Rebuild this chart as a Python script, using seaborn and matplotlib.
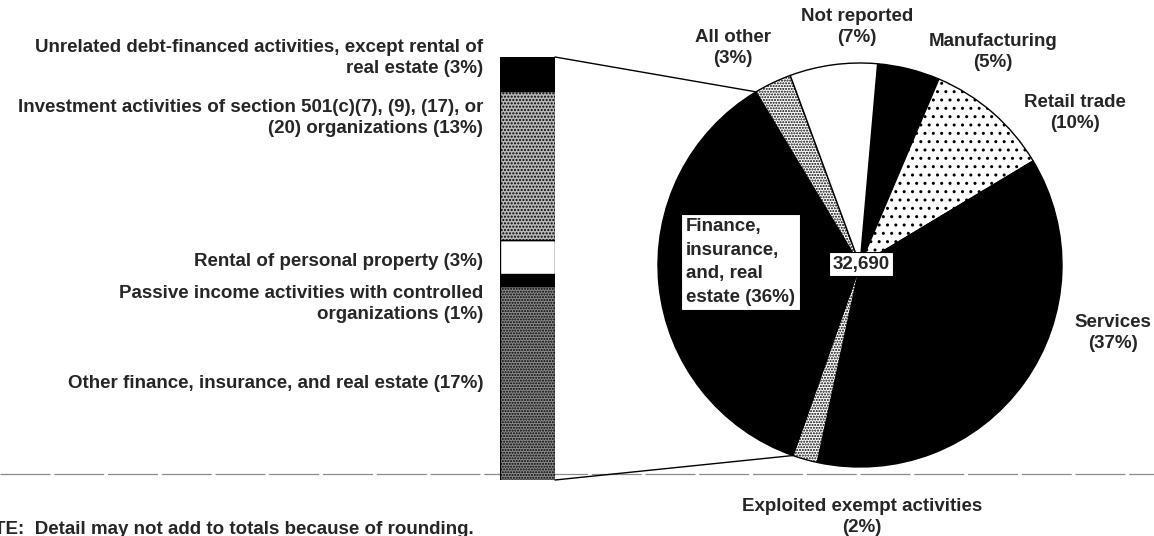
import matplotlib
matplotlib.use("Agg")
import numpy as np
import matplotlib.pyplot as plt
import seaborn as sns

# pie: industry groups, clockwise starting just right of 12 o'clock
pie_labels = ["Manufacturing\n(5%)", "Retail trade\n(10%)", "Services\n(37%)",
              "Exploited exempt activities\n(2%)",
              "Finance,\ninsurance,\nand, real\nestate (36%)",
              "All other\n(3%)", "Not reported\n(7%)"]
pie_values = [5, 10, 37, 2, 36, 3, 7]
total_label = "32,690"

# bar: breakdown of finance, insurance and real estate (bottom to top)
bar_labels = ["Other finance, insurance, and real estate (17%)",
              "Passive income activities with controlled\norganizations (1%)",
              "Rental of personal property (3%)",
              "Investment activities of section 501(c)(7), (9), (17), or\n(20) organizations (13%)",
              "Unrelated debt-financed activities, except rental of\nreal estate (3%)"]
bar_values = [17, 1, 3, 13, 3]

note = "NOTE:  Detail may not add to totals because of rounding."

sns.set_theme(style="white")
plt.rcParams['font.family'] = ['Liberation Sans', 'DejaVu Sans']
plt.rcParams['font.weight'] = 'bold'
plt.rcParams['hatch.linewidth'] = 1.0

W, H = 1154, 536
fig = plt.figure(figsize=(W / 100, H / 100), dpi=100)
ax = fig.add_axes([0, 0, 1, 1])

# pie (pixel coords, y down)
cx, cy, r = 860, 265, 202
pie_colors = ["black", "white", "black", "white", "black", "white", "white"]
pie_hatch = ["", "..", "", "......", "", "......", ""]
wedges, _ = ax.pie(pie_values, colors=pie_colors, hatch=pie_hatch,
                   startangle=-85, counterclock=True, center=(cx, cy),
                   radius=r, frame=True,
                   wedgeprops=dict(edgecolor="black", linewidth=1))
ax.set_xlim(0, W)
ax.set_ylim(H, 0)
ax.axis("off")

# stacked bar in its own axes
bl, br, bt, bb = 500, 555, 57, 480
ax2 = fig.add_axes([bl / W, (H - bb) / H, (br - bl) / W, (bb - bt) / H])
bar_colors = ["0.55", "black", "white", "0.72", "black"]
bar_hatch = ["......", "", "", ".....", ""]
bottoms = np.concatenate([[0], np.cumsum(bar_values)[:-1]])
for v, b, c, h in zip(bar_values, bottoms, bar_colors, bar_hatch):
    ax2.bar(0, v, bottom=b, width=1, color=c, hatch=h,
            edgecolor="black", linewidth=1)
ax2.set_xlim(-0.5, 0.5)
ax2.set_ylim(0, sum(bar_values))
ax2.axis("off")

# connector lines from bar to finance wedge edges
fin = wedges[4]
t1, t2 = np.radians(fin.theta1), np.radians(fin.theta2)
p_bot = (cx + r * np.cos(t1), cy + r * np.sin(t1))
p_top = (cx + r * np.cos(t2), cy + r * np.sin(t2))
ax.plot([br, p_top[0]], [bt, p_top[1]], color="black", lw=1)
ax.plot([br, p_bot[0]], [bb, p_bot[1]], color="black", lw=1)

# page rule
ax.axhline(474, color="0.55", lw=0.9, dashes=(40, 3), zorder=0)

fs = 13.5
# bar labels
bar_label_y = [384, 304, 262, 118, 58]
for lab, y in zip(bar_labels, bar_label_y):
    ax.text(483, y, lab, ha="right", va="center", fontsize=fs, linespacing=1.35)

# pie labels
pie_label_pos = [(993, 52), (1075, 113), (1113, 333), (862, 517),
                 None, (733, 48), (857, 27)]
for lab, pos in zip(pie_labels, pie_label_pos):
    if pos is None:
        continue
    ax.text(pos[0], pos[1], lab, ha="center", va="center", fontsize=fs,
            linespacing=1.35)

ax.text(686, 262, pie_labels[4], ha="left", va="center", fontsize=fs,
        linespacing=1.5,
        bbox=dict(boxstyle="square,pad=0.25", fc="white", ec="black", lw=0.8))
ax.text(861, 264, total_label, ha="center", va="center", fontsize=fs,
        bbox=dict(boxstyle="square,pad=0.2", fc="white", ec="black", lw=0.8))

ax.text(-34, 529, note, ha="left", va="center", fontsize=13.5)

fig.savefig("out.png", dpi=100)
